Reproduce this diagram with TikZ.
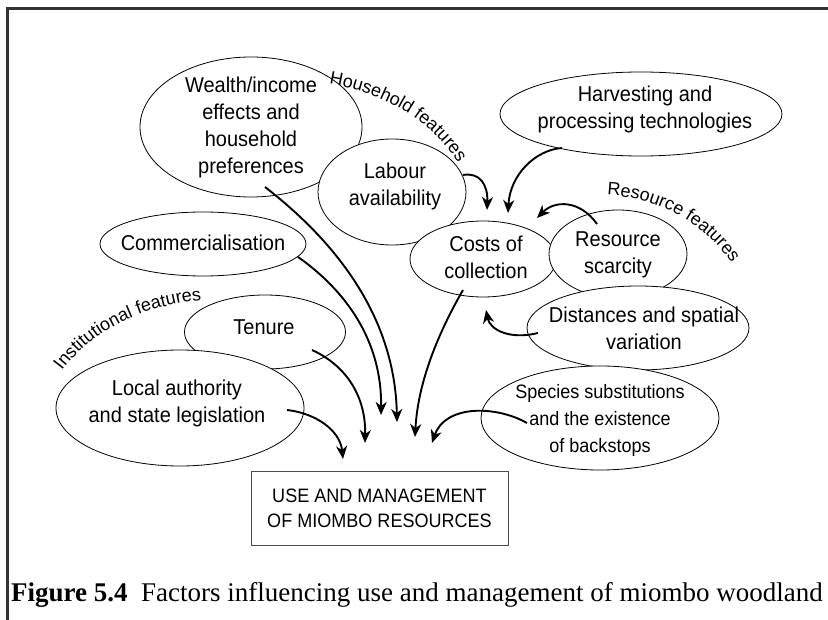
\documentclass[tikz,border=0pt]{standalone}
\usepackage{fontspec}
\setmainfont{Liberation Serif}
\newfontfamily\arialf{Liberation Sans}
\newfontfamily\arialn{Liberation Sans}[FakeStretch=0.93]
\newcommand\lblfnt{\arialf\fontsize{18}{18}\selectfont}
\usetikzlibrary{arrows.meta,shapes.geometric,decorations.text}
\begin{document}
\begin{tikzpicture}[x=1pt,y=-1pt,
  ell/.style={ellipse,draw=black,line width=0.8pt,fill=white,inner sep=0pt},
  lbl/.style={font=\arialn\fontsize{21.5}{27}\selectfont,align=center,inner sep=0pt},
  lblsm/.style={font=\arialn\fontsize{19.4}{27}\selectfont,align=center,inner sep=0pt},
  arr/.style={line width=1.9pt,-{Stealth[length=13pt,width=11pt,inset=4pt]}},
  curved/.style={decorate,decoration={text along path,text align=left,text={#1}}}
]
\useasboundingbox (0,0) rectangle (828,620);
% frame
\draw[line width=3pt,black!80] (828,8.5) -- (7,8.5) -- (7,620);

% ellipses and texts
\node[ell,minimum width=222pt,minimum height=140pt] (wealth) at (251,127) {};
\node[lbl] (wealthT) at (251,127.5) {Wealth/income\\effects and\\household\\preferences};
\node[ell,minimum width=148pt,minimum height=106pt] (labour) at (392,192) {};
\node[lbl] (labourT) at (395,186.5) {Labour\\availability};
\node[ell,minimum width=282pt,minimum height=84pt] (harvest) at (641,114) {};
\node[lbl] (harvestT) at (645,109.5) {Harvesting and\\processing technologies};
\node[ell,minimum width=206pt,minimum height=64pt] (comm) at (203,244) {};
\node[lbl] (commT) at (203,243) {Commercialisation};
\node[ell,minimum width=146pt,minimum height=76pt] (costs) at (483,259) {};
\node[lbl] (costsT) at (486,257.5) {Costs of\\collection};
\node[ell,minimum width=138pt,minimum height=88pt] (resource) at (618,254) {};
\node[lbl] (resourceT) at (618,255) {Resource\\scarcity};
\node[ell,minimum width=222pt,minimum height=84pt] (dist) at (638,328) {};
\node[lbl] (distT) at (644,328) {Distances and spatial\\variation};
\node[ell,minimum width=161pt,minimum height=74pt] (tenure) at (265,332) {};
\node[lbl] (tenureT) at (264,327) {Tenure};
\node[ell,minimum width=248pt,minimum height=116pt] (local) at (180,408) {};
\node[lbl] (localT) at (177,403.5) {Local authority\\and state legislation};
\node[ell,minimum width=238pt,minimum height=104pt] (species) at (600,418) {};
\node[lblsm] (speciesT) at (600,420) {Species substitutions\\and the existence\\of backstops};

% main box
\node[draw=black!70,line width=0.8pt,minimum width=257pt,minimum height=74pt,inner sep=0pt,
  font=\arialn\fontsize{19.4}{25}\selectfont,align=center] (box) at (379.5,508)
  {USE AND MANAGEMENT\\OF MIOMBO RESOURCES};

% group labels along curves
\path[curved={|\lblfnt|Household features}] (329,84) .. controls (378,92) and (432,116) .. (464,173);
\path[curved={|\lblfnt|Resource features}] (607,195) .. controls (656,197) and (718,225) .. (745,288);
\path[curved={|\lblfnt|Institutional features}] (62,371) .. controls (95,327) and (150,300) .. (232,298);

% connector end points
\coordinate (w1) at (265,187);   \coordinate (w2) at (397,422);
\coordinate (c1) at (298,257);   \coordinate (c2) at (381,415);
\coordinate (t1) at (312,350);   \coordinate (t2) at (365,443);
\coordinate (l1) at (287,410);   \coordinate (l2) at (343,459);
\coordinate (k1) at (463,290);   \coordinate (k2) at (415,437);
\coordinate (s1) at (527,423);   \coordinate (s2) at (432,443);
\coordinate (a1) at (463,175);   \coordinate (a2) at (487,210);
\coordinate (h1) at (562,148);   \coordinate (h2) at (508,213);
\coordinate (r1) at (597,224);   \coordinate (r2) at (537,218);
\coordinate (d1) at (538,333);   \coordinate (d2) at (486,310);

\draw[arr] (w1) .. controls (340,245) and (395,320) .. (w2);
\draw[arr] (c1) .. controls (345,290) and (382,340) .. (c2);
\draw[arr] (t1) .. controls (345,365) and (366,395) .. (t2);
\draw[arr] (l1) .. controls (315,413) and (340,430) .. (l2);
\draw[arr] (k1) .. controls (440,330) and (418,380) .. (k2);
\draw[arr] (s1) .. controls (495,405) and (445,405) .. (s2);
\draw[arr] (a1) .. controls (480,172) and (488,185) .. (a2);
\draw[arr] (h1) .. controls (535,150) and (510,175) .. (h2);
\draw[arr] (r1) .. controls (580,200) and (555,200) .. (r2);
\draw[arr] (d1) .. controls (510,340) and (490,330) .. (d2);

% caption
\node[anchor=base west,inner sep=0pt,font=\fontsize{27}{30}\selectfont] (cap) at (11,601)
  {\textbf{Figure 5.4}\hspace{0.5em}Factors influencing use and management of miombo woodland};
\end{tikzpicture}
\end{document}
